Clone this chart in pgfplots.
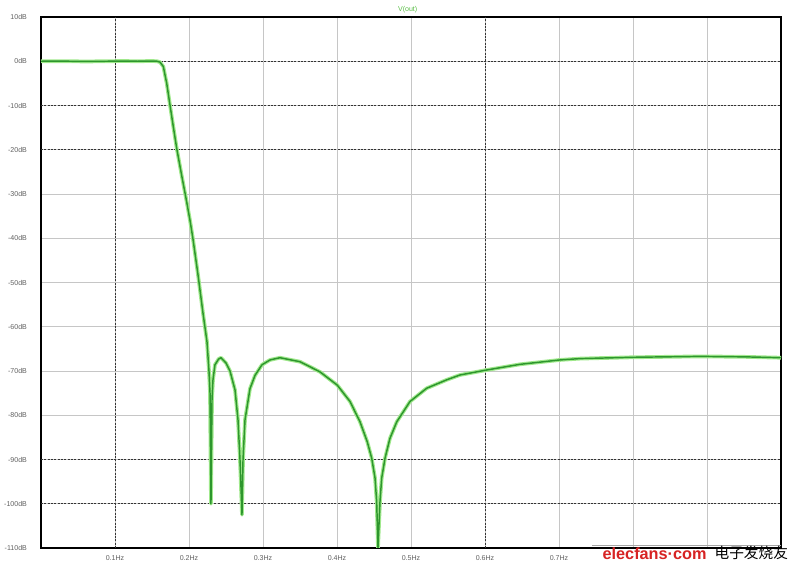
\documentclass[border=0pt]{standalone}
\usepackage{pgfplots}
\pgfplotsset{compat=1.18}
\usepackage{pgfplotstable}
\usepackage{fontspec}
\setmainfont{Liberation Sans}
\newfontfamily\cjk{Noto Sans CJK SC}

\definecolor{trace}{RGB}{45,150,45}
\definecolor{halo}{RGB}{160,232,140}
\definecolor{ticktext}{RGB}{95,95,95}
\definecolor{titlegreen}{RGB}{90,190,70}
\definecolor{wmred}{RGB}{215,35,35}

% V(out) magnitude in dB vs frequency in Hz
\pgfplotstableread{
f db
0 0
0.03 0.02
0.06 -0.05
0.09 0.0
0.11 0.05
0.13 0.0
0.15 0.05
0.1568 0
0.1608 -0.2
0.1653 -1.2
0.1699 -5
0.1743 -9.9
0.1788 -14.8
0.1834 -19.7
0.1901 -25.8
0.1969 -31.8
0.2014 -36.0
0.2054 -40.2
0.2122 -48.3
0.2189 -56.9
0.2243 -63.4
0.2270 -70
0.2284 -75
0.2297 -100
0.2311 -76.5
0.2324 -72
0.2351 -68.6
0.2400 -67.3
0.2432 -67.0
0.2500 -68.2
0.2554 -70
0.2622 -74.3
0.2662 -81
0.2689 -90
0.2716 -102.5
0.2730 -90
0.2757 -81
0.2824 -74
0.2892 -71
0.2986 -68.6
0.3095 -67.5
0.3230 -67.0
0.3500 -67.9
0.3770 -70.2
0.4004 -73.2
0.4176 -76.9
0.4311 -81.5
0.4409 -86.0
0.4469 -89.7
0.4514 -94.2
0.4536 -99.5
0.4554 -110
0.4581 -99.5
0.4604 -94.2
0.4649 -89.7
0.4716 -85.2
0.4807 -81.5
0.4986 -76.9
0.5212 -73.9
0.5482 -72.0
0.5662 -70.9
0.6014 -69.8
0.6470 -68.5
0.7014 -67.5
0.7284 -67.2
0.8000 -66.9
0.8905 -66.7
0.9500 -66.8
1.0000 -67
}\vout

\begin{document}
\begin{tikzpicture}[x=1pt,y=1pt]
\useasboundingbox (-30.75pt,-18.75pt) rectangle (573.75pt,411pt);
\begin{axis}[
  scale only axis,
  width=555pt, height=398.25pt,
  xmin=0, xmax=1, ymin=-110, ymax=10,
  xtick={0.1,0.2,0.3,0.4,0.5,0.6,0.7,0.8,0.9},
  xticklabels={0.1Hz,0.2Hz,0.3Hz,0.4Hz,0.5Hz,0.6Hz,0.7Hz,0.8Hz,0.9Hz},
  ytick={-110,-100,-90,-80,-70,-60,-50,-40,-30,-20,-10,0,10},
  yticklabels={-110dB,-100dB,-90dB,-80dB,-70dB,-60dB,-50dB,-40dB,-30dB,-20dB,-10dB,0dB,10dB},
  tick style={draw=none},
  ticklabel style={font=\fontsize{5.3}{6}\selectfont, text=ticktext},
  yticklabel style={xshift=-7pt},
  xticklabel style={yshift=-2pt},
  grid=major,
  major grid style={gray!45, line width=0.5pt},
  extra x ticks={0.1,0.6},
  extra x tick labels={},
  extra y ticks={-100,-90,-20,-10,0},
  extra y tick labels={},
  extra tick style={major grid style={black!80, line width=0.5pt, dash pattern=on 1.5pt off 1pt}},
  axis line style={line width=1.8pt, black},
  clip=true,
]
\addplot[halo, line width=2.8pt, line join=round] table[x=f, y=db] {\vout};
\addplot[trace, line width=1.1pt, line join=round] table[x=f, y=db] {\vout};
\end{axis}
% title
\node[text=titlegreen, font=\fontsize{5.3}{6}\selectfont] at (275pt,404pt) {V(out)};
% watermark
\fill[white] (413.25pt,-1.7pt) rectangle (604.5pt,-20pt);
\draw[gray!70, line width=0.8pt] (413.25pt,1.9pt) -- (555pt,1.9pt);
\node[anchor=west, text=wmred, font=\bfseries\fontsize{12.2}{13}\selectfont, inner sep=0pt] at (421pt,-4pt) {elecfans·com};
\node[anchor=west, text=black, font=\cjk\fontsize{11}{12}\selectfont, inner sep=0pt] at (505pt,-4pt) {电子发烧友};
\end{tikzpicture}
\end{document}
